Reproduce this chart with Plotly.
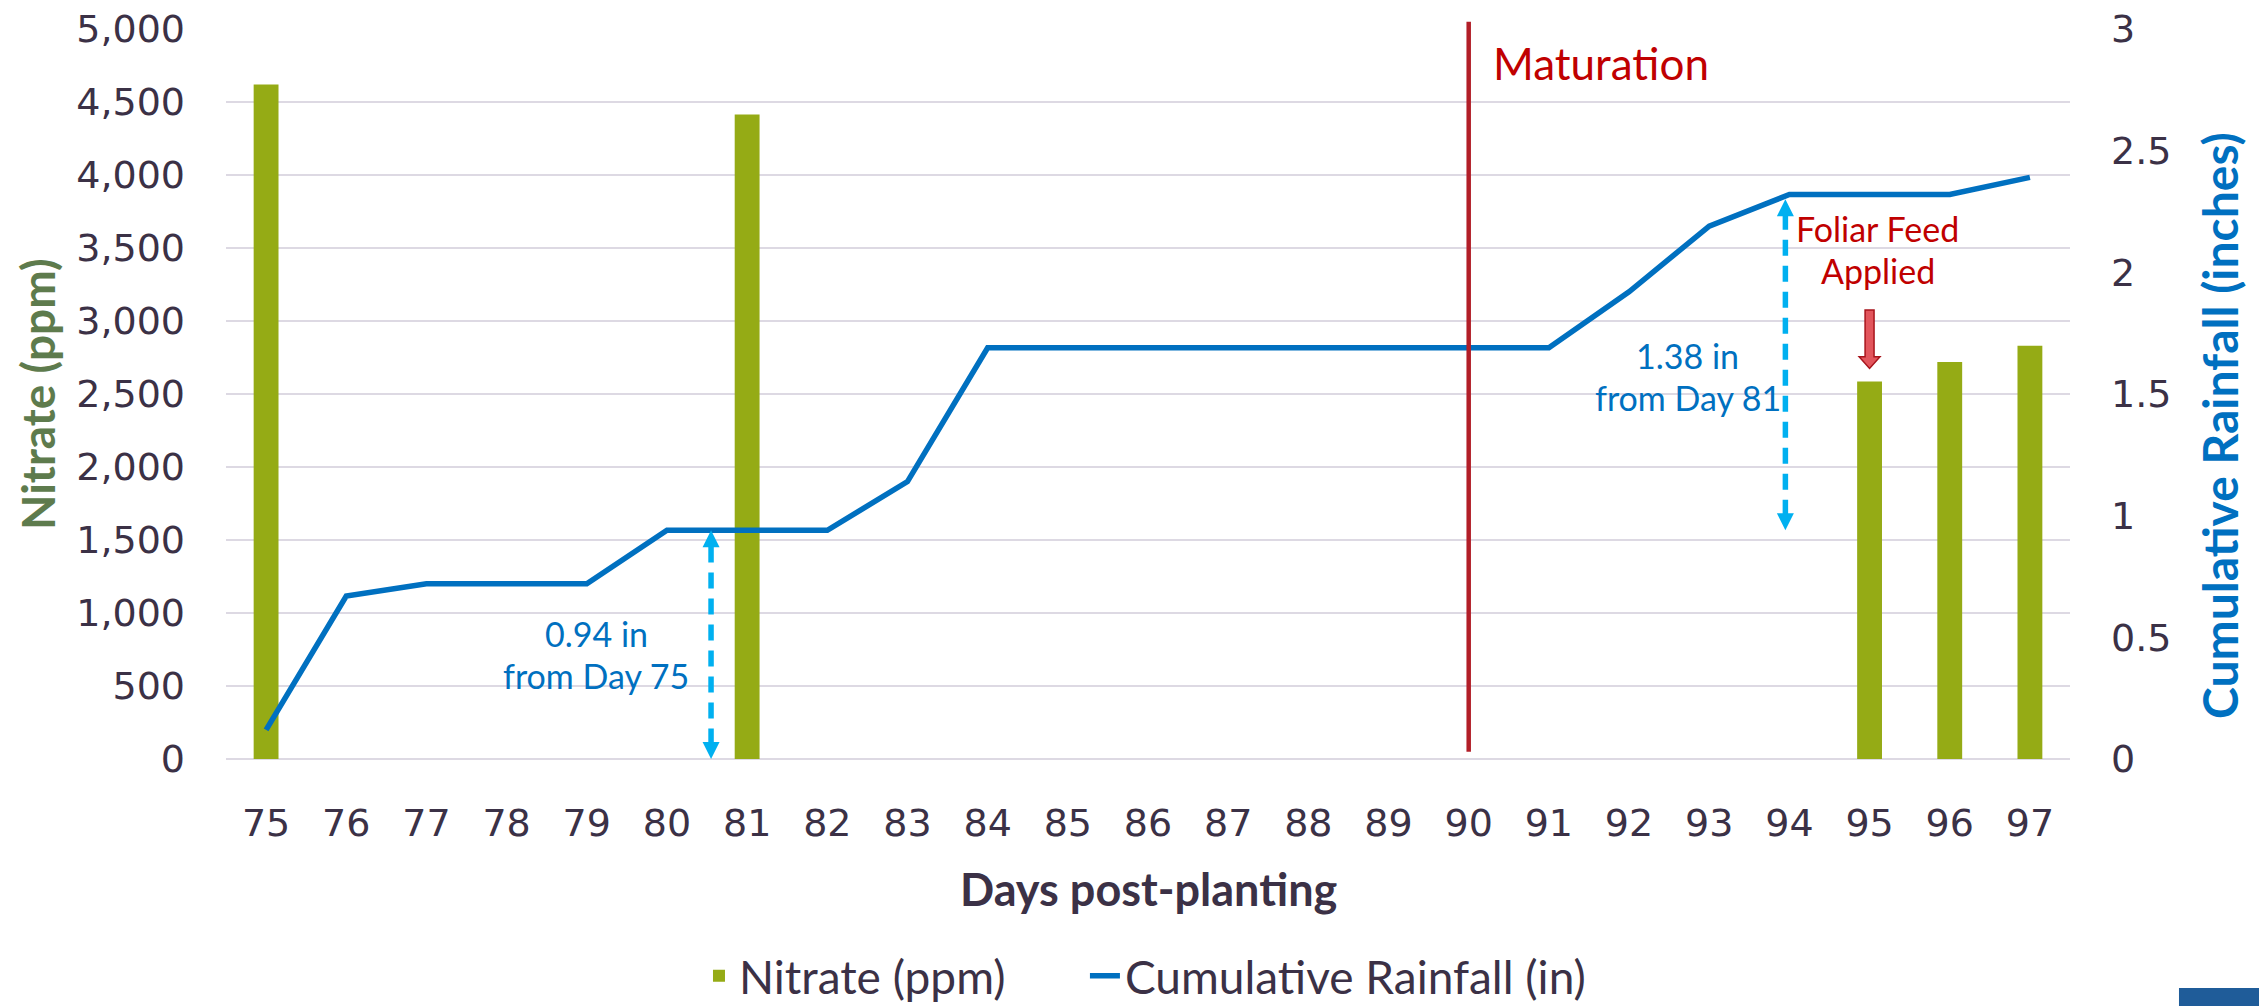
import plotly.graph_objects as go

# ---------------- data ----------------
days = list(range(75, 98))
nitrate_days = [75, 81, 95, 96, 97]
nitrate_ppm = [4620, 4415, 2585, 2720, 2830]
cum_rain_in = [0.12, 0.67, 0.72, 0.72, 0.72, 0.94, 0.94, 0.94, 1.14, 1.69,
               1.69, 1.69, 1.69, 1.69, 1.69, 1.69, 1.69, 1.92, 2.19, 2.32,
               2.32, 2.32, 2.39]
left_ticks = list(range(0, 5001, 500))
right_ticks = [0, 0.5, 1, 1.5, 2, 2.5, 3]
maturation_day = 90
foliar_day = 95
# rainfall gain markers: (x position, from level, to level, label lines)
gain1 = (80.55, 0.0, 0.94, ["0.94 in", "from Day 75"])
gain2 = (93.95, 0.94, 2.30, ["1.38 in", "from Day 81"])
foliar_label = ["Foliar Feed", "Applied"]

# ---------------- styles ----------------
GREEN = "#95AB15"
BLUE = "#0070C0"
LIGHTBLUE = "#00B0F0"
RED = "#C00000"
DARK = "#3B3146"
GRID = "#DDD9E3"
TXT = "Lato, 'Open Sans', sans-serif"
TICKF = "'DejaVu Sans', sans-serif"

fig = go.Figure()
fig.add_trace(go.Bar(x=nitrate_days, y=nitrate_ppm, name="Nitrate (ppm)",
                     marker=dict(color=GREEN, line=dict(width=0)), width=0.31,
                     yaxis="y", legend="legend"))
fig.add_trace(go.Scatter(x=days, y=cum_rain_in, name="Cumulative Rainfall (in)",
                         mode="lines", line=dict(color=BLUE, width=5.5),
                         yaxis="y2", legend="legend2"))


def two_lines(x, ymid, lines, color, size, yref):
    step = 0.087
    for i, t in enumerate(lines):
        fig.add_annotation(x=x, y=ymid + step * (0.5 - i) * 2, xref="x", yref=yref,
                           text=t, showarrow=False, xanchor="center", yanchor="middle",
                           font=dict(family=TXT, size=size, color=color))


label_x = {gain1[0]: gain1[0] - 1.43, gain2[0]: gain2[0] - 1.22}
label_y = {gain1[0]: 0.43, gain2[0]: 1.572}
for gx, g0, g1, lines in (gain1, gain2):
    fig.add_trace(go.Scatter(x=[gx, gx], y=[g0 + 0.06, g1 - 0.06], mode="lines",
                             line=dict(color=LIGHTBLUE, width=5.5, dash="16px,10px"),
                             yaxis="y2", showlegend=False, hoverinfo="skip"))
    fig.add_trace(go.Scatter(x=[gx, gx], y=[g0, g1], mode="markers",
                             marker=dict(symbol=["arrow-down", "arrow-up"], size=17,
                                         color=LIGHTBLUE),
                             yaxis="y2", showlegend=False, hoverinfo="skip"))
    two_lines(label_x[gx], label_y[gx], lines, BLUE, 34, "y2")

# Maturation line and label
fig.add_shape(type="line", x0=maturation_day, x1=maturation_day, xref="x",
              y0=0.01, y1=1.01, yref="paper", line=dict(color="#B21E28", width=4.5))
fig.add_annotation(x=maturation_day, xref="x", y=0.953, yref="paper",
                   text="Maturation", showarrow=False, xanchor="left", yanchor="middle",
                   xshift=22, font=dict(family=TXT, size=44, color=RED))

# Foliar feed label and red block arrow
two_lines(foliar_day + 0.1, 2.094, foliar_label, RED, 34, "y2")
bar95 = nitrate_ppm[nitrate_days.index(foliar_day)]
tip = bar95 + 90
hb = tip + 80
top = tip + 400
sw, hw = 0.056, 0.13
path = (f"M {foliar_day - sw} {top} L {foliar_day + sw} {top} L {foliar_day + sw} {hb} "
        f"L {foliar_day + hw} {hb} L {foliar_day} {tip} L {foliar_day - hw} {hb} "
        f"L {foliar_day - sw} {hb} Z")
fig.add_shape(type="path", path=path, xref="x", yref="y",
              fillcolor="#E2555C", line=dict(color="#A8141C", width=1.5))

# axis titles as annotations
fig.add_annotation(x=-0.1025, y=0.5, xref="paper", yref="paper", text="<b>Nitrate (ppm)</b>",
                   textangle=-90, showarrow=False, xanchor="center", yanchor="middle",
                   font=dict(family=TXT, size=46, color="#5E7B4D"))
fig.add_annotation(x=1.0808, y=0.4575, xref="paper", yref="paper",
                   text="<b>Cumulative Rainfall (inches)</b>", textangle=-90, showarrow=False,
                   xanchor="center", yanchor="middle",
                   font=dict(family=TXT, size=48, color=BLUE))
fig.add_annotation(x=0.5, y=-0.178, xref="paper", yref="paper",
                   text="<b>Days post-planting</b>", showarrow=False,
                   xanchor="center", yanchor="middle",
                   font=dict(family=TXT, size=45, color=DARK))

# slide corner artefact
fig.add_shape(type="rect", xref="paper", yref="paper", x0=1.0591, x1=1.11,
              y0=-0.345, y1=-0.3137, fillcolor="#1F5C99", line=dict(width=0))

legend_common = dict(orientation="h", xanchor="left", y=-0.297, yanchor="middle",
                     font=dict(family=TXT, size=46, color=DARK),
                     bgcolor="rgba(0,0,0,0)", borderwidth=0)

fig.update_layout(
    width=2259, height=1006,
    margin=dict(l=226, r=189, t=29, b=247, autoexpand=False),
    paper_bgcolor="white", plot_bgcolor="white",
    showlegend=True,
    legend=dict(x=0.2565, **legend_common),
    legend2=dict(x=0.4658, **legend_common),
    xaxis=dict(range=[74.5, 97.5], tickvals=days, ticktext=[str(d) for d in days],
               showgrid=False, zeroline=False, showline=False, ticks="",
               ticklabelstandoff=38, automargin=False,
               tickfont=dict(family=TICKF, size=38, color=DARK)),
    yaxis=dict(range=[0, 5000], tickvals=left_ticks, tickformat=",",
               showgrid=True, gridcolor=GRID, gridwidth=2,
               zeroline=True, zerolinecolor=GRID, zerolinewidth=2,
               showline=False, ticks="", ticklabelstandoff=40, automargin=False,
               tickfont=dict(family=TICKF, size=38, color=DARK)),
    yaxis2=dict(range=[0, 3], tickvals=right_ticks, overlaying="y", side="right",
                showgrid=False, zeroline=False, showline=False, ticks="",
                ticklabelstandoff=40, automargin=False,
                tickfont=dict(family=TICKF, size=38, color=DARK)),
    bargap=0.69,
)

fig.write_html("out.html", config={"displayModeBar": False},
               post_script="document.body.style.margin='0';document.body.style.overflow='hidden';")
